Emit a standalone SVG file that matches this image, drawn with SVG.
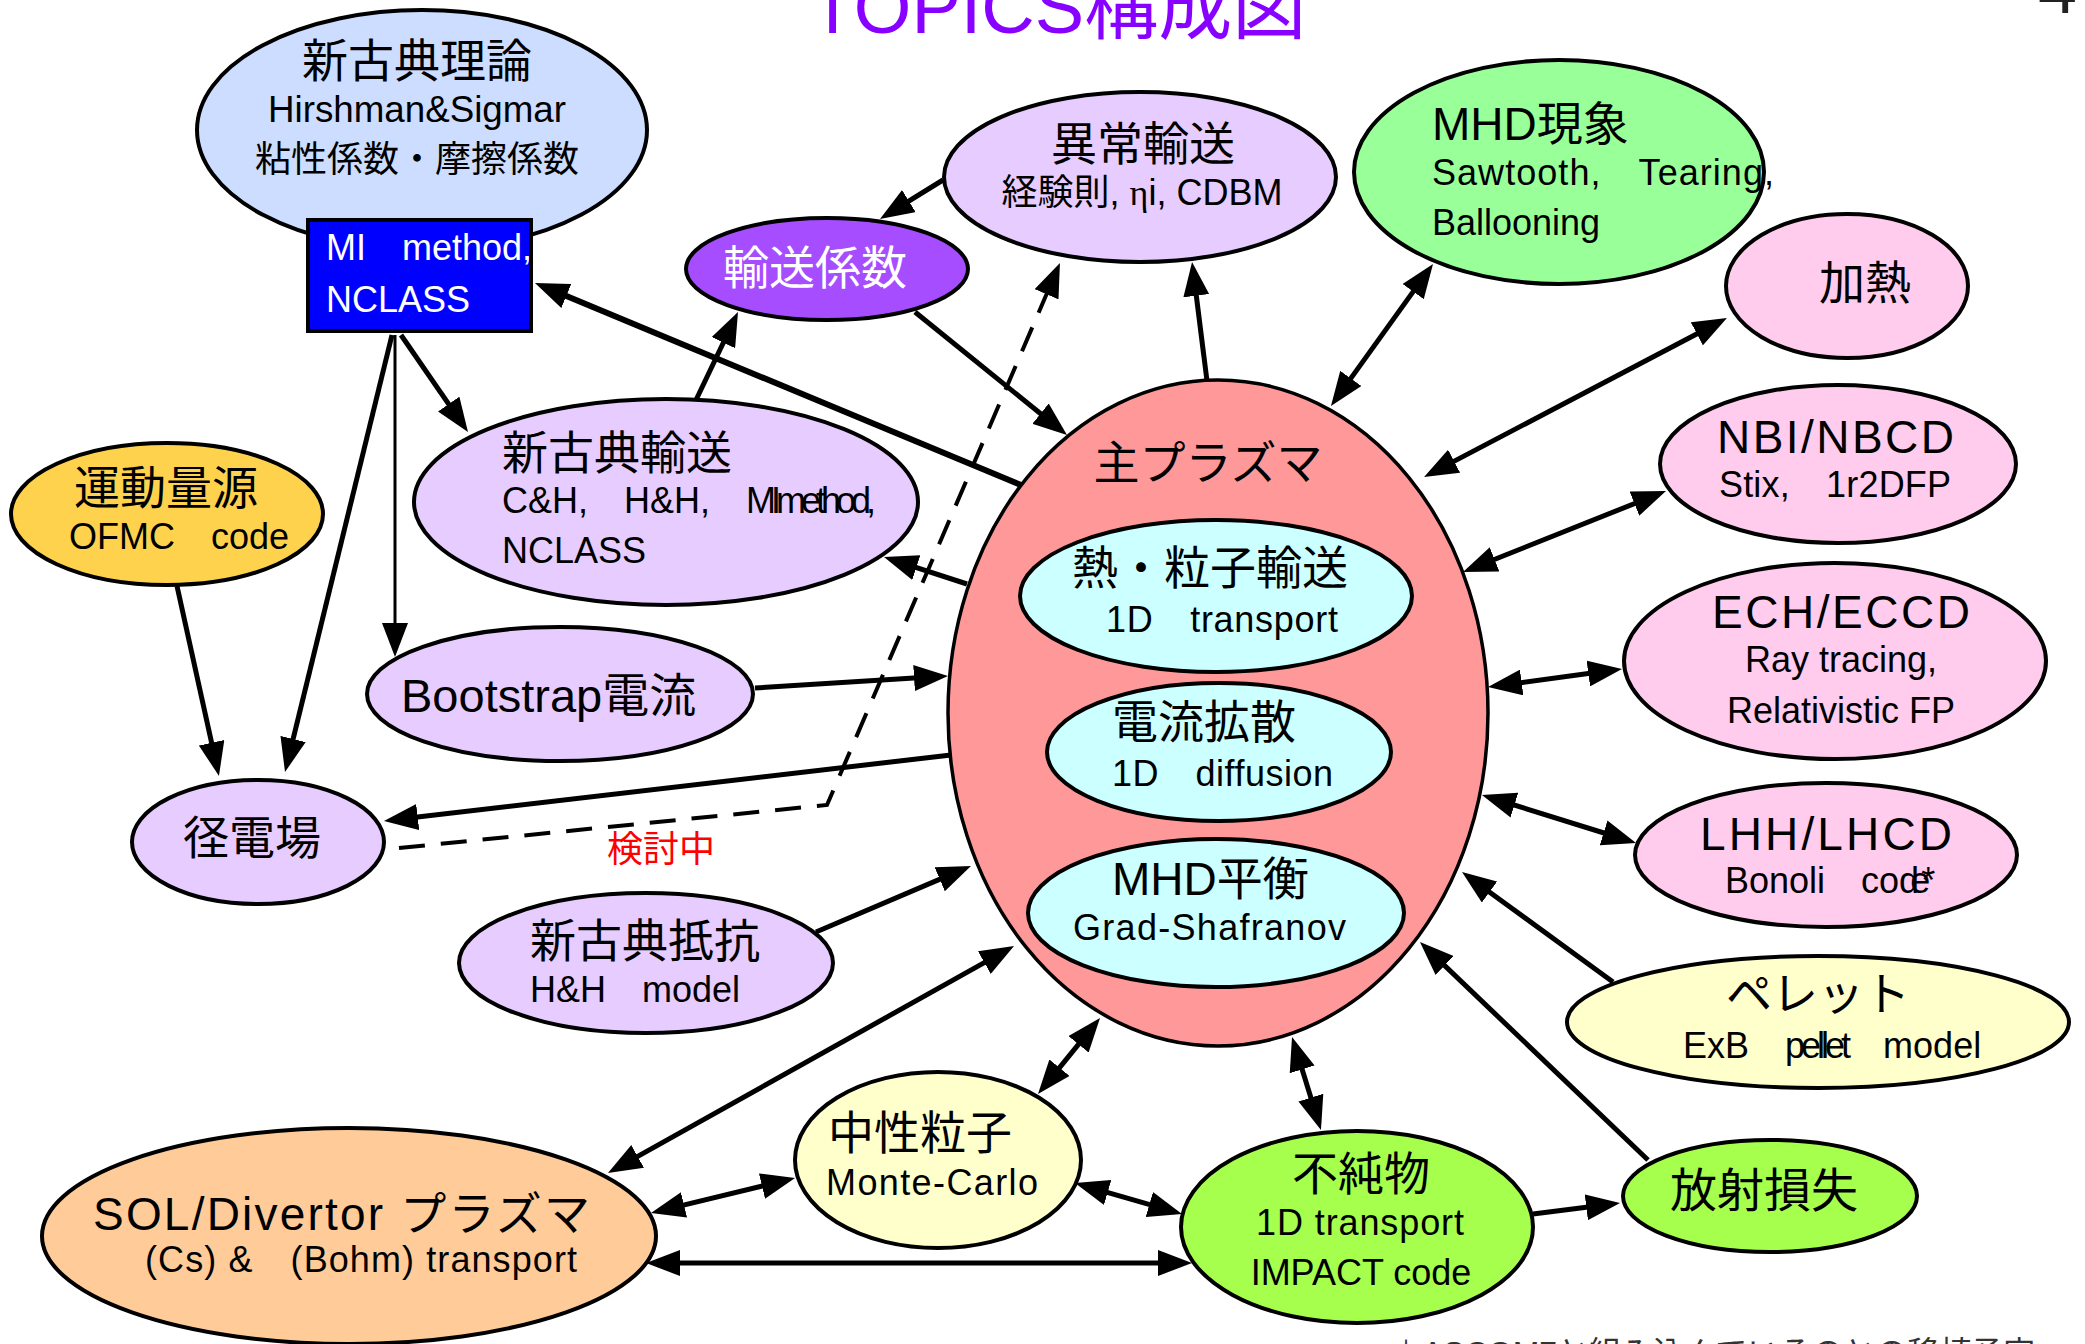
<svg xmlns="http://www.w3.org/2000/svg" width="2085" height="1344" viewBox="0 0 2085 1344">
<style>
.n{stroke:#000;stroke-width:4}
.t{font-family:"Liberation Sans","Noto Sans CJK JP",sans-serif;fill:#000}
.w{fill:#fff}
.h{font-size:46px}
.s{font-size:36px}
.m{text-anchor:middle}
.c{stroke:#000;stroke-width:5;fill:none}
.lav{fill:#e6ccff}
.pink{fill:#ffccee}
.yel{fill:#ffffcc}
.grn{fill:#a6ff4d}
</style>
<defs>
<marker id="ah" markerUnits="userSpaceOnUse" markerWidth="34" markerHeight="26" refX="24" refY="13" orient="auto-start-reverse">
<path d="M0,0 L34,13 L0,26 z" fill="#000"/>
</marker>
</defs>
<rect width="2085" height="1344" fill="#fff"/>

<g id="title">
<text x="810" y="33" style="font-family:'Liberation Sans','Noto Sans CJK JP',sans-serif;font-size:74px;fill:#8800ff">TOPICS構成図</text>
<text x="2038" y="13" style="font-family:'Liberation Sans',sans-serif;font-size:70px;fill:#222">4</text>
</g>

<g id="connectors">
<line class="c" x1="943" y1="180" x2="888.5" y2="213.7" marker-end="url(#ah)"/>
<line class="c" x1="915" y1="312" x2="1059.2" y2="428.7" marker-end="url(#ah)"/>
<line class="c" x1="696" y1="400" x2="733.7" y2="321" marker-end="url(#ah)"/>
<line class="c" style="stroke-width:6" x1="1021" y1="485" x2="544.2" y2="286.8" marker-end="url(#ah)"/>
<line class="c" x1="401" y1="335" x2="462.3" y2="423.8" marker-end="url(#ah)"/>
<line class="c" style="stroke-width:3" x1="395" y1="335" x2="395" y2="647" marker-end="url(#ah)"/>
<line class="c" x1="392" y1="335" x2="287.4" y2="762.3" marker-end="url(#ah)"/>
<line class="c" x1="177" y1="586" x2="216.8" y2="766.2" marker-end="url(#ah)"/>
<line class="c" x1="951" y1="755" x2="393.9" y2="819.8" marker-end="url(#ah)"/>
<path class="c" style="stroke-width:4;stroke-dasharray:26 16" d="M399,848 L827,805 L1056,272.2" marker-end="url(#ah)"/>
<line class="c" x1="755" y1="688" x2="938" y2="676.6" marker-end="url(#ah)"/>
<line class="c" x1="967" y1="584" x2="893.5" y2="560.1" marker-end="url(#ah)"/>
<line class="c" x1="816" y1="932" x2="961.8" y2="869.9" marker-end="url(#ah)"/>
<line class="c" x1="616.7" y1="1168.1" x2="1005.3" y2="950.9" marker-start="url(#ah)" marker-end="url(#ah)"/>
<line class="c" x1="1044.3" y1="1086.3" x2="1093.7" y2="1025.7" marker-start="url(#ah)" marker-end="url(#ah)"/>
<line class="c" x1="1318" y1="1120.5" x2="1295" y2="1046.5" marker-start="url(#ah)" marker-end="url(#ah)"/>
<line class="c" x1="1084.6" y1="1185.8" x2="1172.4" y2="1211.2" marker-start="url(#ah)" marker-end="url(#ah)"/>
<line class="c" x1="660.7" y1="1210.6" x2="785.3" y2="1180.4" marker-start="url(#ah)" marker-end="url(#ah)"/>
<line class="c" x1="656" y1="1263" x2="1182" y2="1263" marker-start="url(#ah)" marker-end="url(#ah)"/>
<line class="c" x1="1533" y1="1214" x2="1610.1" y2="1204.3" marker-end="url(#ah)"/>
<line class="c" x1="1648" y1="1160" x2="1427.2" y2="948.9" marker-end="url(#ah)"/>
<line class="c" x1="1613" y1="982" x2="1470.1" y2="877.9" marker-end="url(#ah)"/>
<line class="c" x1="1491.5" y1="798" x2="1626.5" y2="840" marker-start="url(#ah)" marker-end="url(#ah)"/>
<line class="c" x1="1497.9" y1="685.7" x2="1612.1" y2="670.3" marker-start="url(#ah)" marker-end="url(#ah)"/>
<line class="c" x1="1472.3" y1="568.3" x2="1656.7" y2="494.7" marker-start="url(#ah)" marker-end="url(#ah)"/>
<line class="c" x1="1432.9" y1="472.4" x2="1718.1" y2="322.7" marker-start="url(#ah)" marker-end="url(#ah)"/>
<line class="c" x1="1336.8" y1="397.9" x2="1427.2" y2="272.1" marker-start="url(#ah)" marker-end="url(#ah)"/>
<line class="c" x1="1207" y1="381" x2="1193.3" y2="271.9" marker-end="url(#ah)"/>
<text class="t s" x="607" y="862" style="fill:#ff0000">検討中</text>
</g>

<g id="neo-theory">
<ellipse class="n" cx="422" cy="130" rx="225" ry="120" fill="#ccddff"/>
<text class="t h m" x="417" y="77">新古典理論</text>
<text class="t s m" x="417" y="122" textLength="298" lengthAdjust="spacingAndGlyphs">Hirshman&amp;Sigmar</text>
<text class="t s m" x="417" y="172">粘性係数・摩擦係数</text>
</g>

<g id="mi-box">
<rect class="n" x="308" y="220" width="223" height="111" fill="#0000ff"/>
<text class="t s w" x="326" y="260">MI　method,</text>
<text class="t s w" x="326" y="312">NCLASS</text>
</g>

<g id="transport-coef">
<ellipse class="n" cx="827" cy="269" rx="141" ry="51" fill="#a64dff"/>
<text class="t h m w" x="815" y="284">輸送係数</text>
</g>

<g id="anomalous">
<ellipse class="n lav" cx="1140" cy="177" rx="196" ry="85"/>
<text class="t h m" x="1143" y="160">異常輸送</text>
<text class="t s m" x="1142" y="205">経験則, <tspan style="font-family:'Liberation Serif',serif">η</tspan>i, CDBM</text>
</g>

<g id="mhd-phen">
<ellipse class="n" cx="1559" cy="172" rx="205" ry="112" fill="#99ff99"/>
<text class="t h" x="1432" y="140">MHD現象</text>
<text class="t s" x="1432" y="185" textLength="342" lengthAdjust="spacing">Sawtooth,　Tearing,</text>
<text class="t s" x="1432" y="235">Ballooning</text>
</g>

<g id="heating">
<ellipse class="n pink" cx="1847" cy="286" rx="121" ry="72"/>
<text class="t h m" x="1865" y="299">加熱</text>
</g>

<g id="nbi">
<ellipse class="n pink" cx="1838" cy="464" rx="178" ry="79"/>
<text class="t h" x="1717" y="453" textLength="237" lengthAdjust="spacing">NBI/NBCD</text>
<text class="t s" x="1719" y="497" textLength="232" lengthAdjust="spacing">Stix,　1r2DFP</text>
</g>

<g id="ech">
<ellipse class="n pink" cx="1835" cy="661" rx="211" ry="98"/>
<text class="t h" x="1712" y="628" textLength="258" lengthAdjust="spacing">ECH/ECCD</text>
<text class="t s m" x="1841" y="672">Ray tracing,</text>
<text class="t s m" x="1841" y="723">Relativistic FP</text>
</g>

<g id="lhh">
<ellipse class="n pink" cx="1826" cy="855" rx="191" ry="72"/>
<text class="t h" x="1700" y="850" textLength="252" lengthAdjust="spacing">LHH/LHCD</text>
<text class="t s" x="1725" y="893">Bonoli　co<tspan style="letter-spacing:-9px">de*</tspan></text>
</g>

<g id="pellet">
<ellipse class="n yel" cx="1818" cy="1022" rx="251" ry="66"/>
<text class="t h m" x="1818" y="1010">ペレット</text>
<text class="t s" x="1683" y="1058">ExB　<tspan style="letter-spacing:-4px">pellet</tspan>　model</text>
</g>

<g id="radiation">
<ellipse class="n grn" cx="1770" cy="1196" rx="147" ry="56"/>
<text class="t m" style="font-size:47px" x="1764" y="1207">放射損失</text>
</g>

<g id="impurity">
<ellipse class="n grn" cx="1357" cy="1227" rx="176" ry="96"/>
<text class="t h m" x="1361" y="1190">不純物</text>
<text class="t s m" x="1360" y="1235" textLength="208" lengthAdjust="spacing">1D transport</text>
<text class="t s m" x="1361" y="1285">IMPACT code</text>
</g>

<g id="neutral">
<ellipse class="n yel" cx="938" cy="1160" rx="143" ry="88"/>
<text class="t h" x="828" y="1149">中性粒子</text>
<text class="t s" x="826" y="1195" textLength="212" lengthAdjust="spacing">Monte-Carlo</text>
</g>

<g id="sol">
<ellipse class="n" cx="349" cy="1236" rx="307" ry="108" fill="#ffcc99"/>
<text class="t h" x="93" y="1230" textLength="497" lengthAdjust="spacing">SOL/Divertor プラズマ</text>
<text class="t s" x="145" y="1272" textLength="432" lengthAdjust="spacing">(Cs) &amp;　(Bohm) transport</text>
</g>

<g id="neo-resist">
<ellipse class="n lav" cx="646" cy="963" rx="187" ry="70"/>
<text class="t h" x="530" y="957">新古典抵抗</text>
<text class="t s" x="530" y="1002">H&amp;H　model</text>
</g>

<g id="main-plasma">
<ellipse class="n" style="stroke-width:3.5" cx="1218" cy="713" rx="270" ry="333" fill="#ff9999"/>
<text class="t h m" x="1208" y="479">主プラズマ</text>
</g>

<g id="heat-particle">
<ellipse class="n" cx="1216" cy="596" rx="196" ry="76" fill="#ccffff"/>
<text class="t h m" x="1210" y="584">熱・粒子輸送</text>
<text class="t s" x="1106" y="632" textLength="232" lengthAdjust="spacing">1D　transport</text>
</g>

<g id="current-diff">
<ellipse class="n" cx="1219" cy="752" rx="172" ry="69" fill="#ccffff"/>
<text class="t h" x="1112" y="738">電流拡散</text>
<text class="t s" x="1112" y="786" textLength="221" lengthAdjust="spacing">1D　diffusion</text>
</g>

<g id="mhd-eq">
<ellipse class="n" cx="1216" cy="913" rx="188" ry="74" fill="#ccffff"/>
<text class="t h" x="1112" y="895">MHD平衡</text>
<text class="t s" x="1073" y="940" textLength="273" lengthAdjust="spacing">Grad-Shafranov</text>
</g>

<g id="neo-transport">
<ellipse class="n lav" cx="666" cy="502" rx="252" ry="103"/>
<text class="t h" x="502" y="469">新古典輸送</text>
<text class="t s" x="502" y="513">C&amp;H,　H&amp;H,　<tspan style="letter-spacing:-5px">MImethod,</tspan></text>
<text class="t s" x="502" y="563">NCLASS</text>
</g>

<g id="bootstrap">
<ellipse class="n lav" cx="560" cy="694" rx="193" ry="67"/>
<text class="t" style="font-size:47px" x="401" y="712">Bootstrap電流</text>
</g>

<g id="momentum">
<ellipse class="n" cx="167" cy="514" rx="156" ry="71" fill="#ffd24d"/>
<text class="t h" x="74" y="504">運動量源</text>
<text class="t s" x="69" y="549">OFMC　code</text>
</g>

<g id="radial-e">
<ellipse class="n lav" cx="258" cy="842" rx="126" ry="62"/>
<text class="t h" x="183" y="854">径電場</text>
</g>

<g id="footnote">
<text class="t" style="font-size:32px;fill:#333" x="1390" y="1364">＊ASCOM7と組み込んでいるのとの移植予定</text>
</g>
</svg>
